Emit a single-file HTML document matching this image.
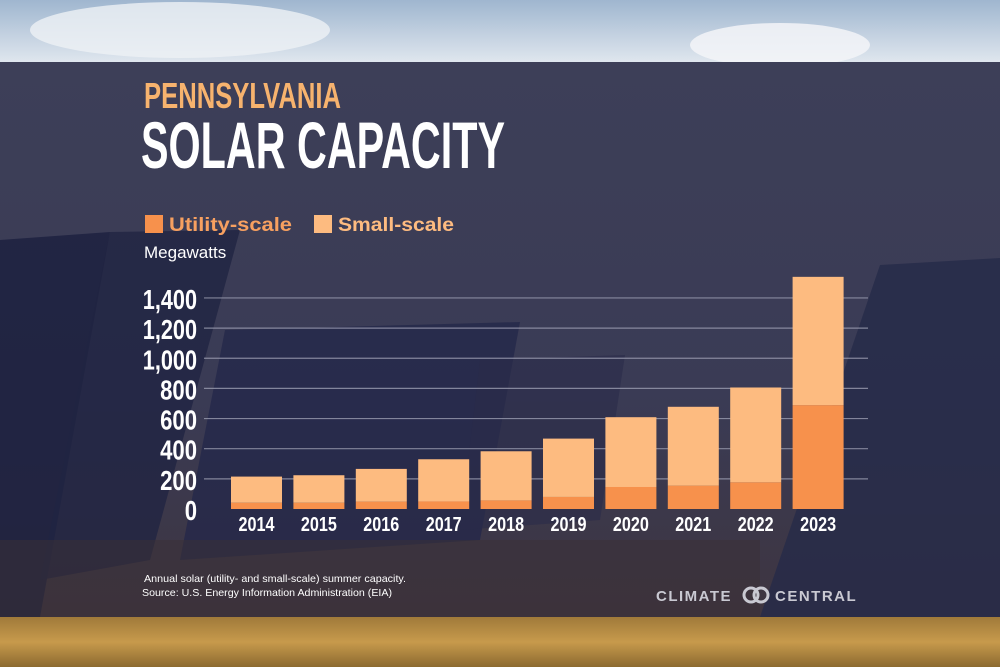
<!DOCTYPE html>
<html><head><meta charset="utf-8">
<style>
html,body{margin:0;padding:0;width:1000px;height:667px;overflow:hidden;background:#3b3d56;}
svg{display:block}
.cond{font-family:"Liberation Sans Narrow","Liberation Sans",sans-serif;font-weight:bold;}
.sans{font-family:"Liberation Sans","DejaVu Sans",sans-serif;}
</style></head>
<body>
<svg id="chart" width="1000" height="667" viewBox="0 0 1000 667" xmlns="http://www.w3.org/2000/svg">
<defs>
<linearGradient id="sky" x1="0" y1="0" x2="0" y2="1"><stop offset="0" stop-color="#9fb6cf"/><stop offset="1" stop-color="#dfe6ee"/></linearGradient>
<linearGradient id="grass" x1="0" y1="0" x2="0" y2="1"><stop offset="0" stop-color="#a07a3a"/><stop offset="0.5" stop-color="#c79a4c"/><stop offset="1" stop-color="#8c6a30"/></linearGradient>
<linearGradient id="band" x1="0" y1="0" x2="0" y2="1"><stop offset="0" stop-color="#3d3f58"/><stop offset="0.6" stop-color="#3a3b55"/><stop offset="1" stop-color="#3e3540"/></linearGradient>
</defs>
<g>
<rect x="0" y="0" width="1000" height="62" fill="url(#sky)"/>
<ellipse cx="180" cy="30" rx="150" ry="28" fill="#eef1f5" opacity="0.8"/>
<ellipse cx="780" cy="45" rx="90" ry="22" fill="#f3f5f8" opacity="0.85"/>
<rect x="0" y="617" width="1000" height="50" fill="url(#grass)"/>
<rect x="0" y="62" width="1000" height="555" fill="url(#band)"/>
<polygon points="0,240 110,232 40,617 0,617" fill="#1d2140" opacity="0.85"/>
<polygon points="110,232 240,230 150,560 40,580" fill="#202442" opacity="0.8"/>
<polygon points="225,330 520,322 480,540 180,560" fill="#23274a" opacity="0.75"/>
<polygon points="480,360 625,355 600,520 460,530" fill="#2a2c4a" opacity="0.6"/>
<polygon points="880,265 1000,258 1000,617 760,617" fill="#262a48" opacity="0.8"/>
<rect x="0" y="540" width="760" height="77" fill="#3a3036" opacity="0.5"/>
</g>
<text x="144" y="108" class="cond" font-size="36" fill="#f7b36e" textLength="197" lengthAdjust="spacingAndGlyphs">PENNSYLVANIA</text>
<text x="141" y="168" class="cond" font-size="66" fill="#ffffff" textLength="364" lengthAdjust="spacingAndGlyphs">SOLAR CAPACITY</text>
<g>
<rect x="145" y="215" width="18" height="18" fill="#f7914c"/>
<text x="169" y="231" class="sans" font-weight="bold" font-size="19" fill="#f7a060" textLength="123" lengthAdjust="spacingAndGlyphs">Utility-scale</text>
<rect x="314" y="215" width="18" height="18" fill="#fdbb80"/>
<text x="338" y="231" class="sans" font-weight="bold" font-size="19" fill="#fdbb80" textLength="116" lengthAdjust="spacingAndGlyphs">Small-scale</text>
</g>
<text x="144" y="258" class="sans" font-size="17" fill="#ffffff">Megawatts</text>
<g id="grid"></g>
<g id="bars"></g>
<g id="xlabels"></g>
<text x="144" y="582" class="sans" font-size="10.5" fill="#ffffff" textLength="262" lengthAdjust="spacingAndGlyphs">Annual solar (utility- and small-scale) summer capacity.</text>
<text x="142" y="596" class="sans" font-size="10.5" fill="#ffffff" textLength="250" lengthAdjust="spacingAndGlyphs">Source: U.S. Energy Information Administration (EIA)</text>
<g>
<text x="656" y="601" class="sans" font-weight="bold" font-size="15" fill="#c9c9d2" letter-spacing="1.5">CLIMATE</text>
<circle cx="751" cy="595" r="7" fill="none" stroke="#c9c9d2" stroke-width="3"/>
<circle cx="761" cy="595" r="7" fill="none" stroke="#c9c9d2" stroke-width="3"/>
<text x="775" y="601" class="sans" font-weight="bold" font-size="15" fill="#c9c9d2" letter-spacing="1.5">CENTRAL</text>
</g>
</svg>
<script>
const years = ["2014","2015","2016","2017","2018","2019","2020","2021","2022","2023"];
const utility = [42,42,49,50,57,80,146,155,177,689];
const smallScale = [173,182,217,280,326,387,463,523,629,851];
const yTicks = [0,200,400,600,800,1000,1200,1400];
const yTickLabels = ["0","200","400","600","800","1,000","1,200","1,400"];

const NS="http://www.w3.org/2000/svg";
const y0=509, pxPer=30.15/200, xStart=231, step=62.4, bw=51;
const yScale=v=>y0-v*pxPer;
const xScale=i=>xStart+i*step;
function mk(tag,attrs,parent){const e=document.createElementNS(NS,tag);for(const k in attrs)e.setAttribute(k,attrs[k]);parent.appendChild(e);return e;}
function labelWidth(s){let w=0;for(const c of s)w+=(c===','?5:12.3);return w;}
const grid=document.getElementById('grid'),bars=document.getElementById('bars'),xl=document.getElementById('xlabels');
yTicks.forEach((t,i)=>{
  const y=yScale(t);
  if(t>0){const l=mk('line',{x1:204,x2:868,y1:y,y2:y,stroke:'#9a9cb0','stroke-width':1.2,opacity:0.8},grid);
  
  }
  const w=labelWidth(yTickLabels[i]);
  const tx=mk('text',{x:197-w,y:y+11,'class':'cond','font-size':28,fill:'#ffffff',textLength:w,lengthAdjust:'spacingAndGlyphs'},grid);
  tx.textContent=yTickLabels[i];
  
  
});
years.forEach((yr,i)=>{
  const x=xScale(i);
  const u=mk('rect',{x:x,width:bw,y:yScale(utility[i]),height:utility[i]*pxPer,fill:'#f7914c'},bars);
  
  
  const tot=utility[i]+smallScale[i];
  const s=mk('rect',{x:x,width:bw,y:yScale(tot),height:smallScale[i]*pxPer,fill:'#fdbb80'},bars);
  
  
  const t=mk('text',{x:x+bw/2-18,y:531,'class':'cond','font-size':20,fill:'#ffffff',textLength:36,lengthAdjust:'spacingAndGlyphs'},xl);
  t.textContent=yr;
  
  
});
</script>
</body></html>
